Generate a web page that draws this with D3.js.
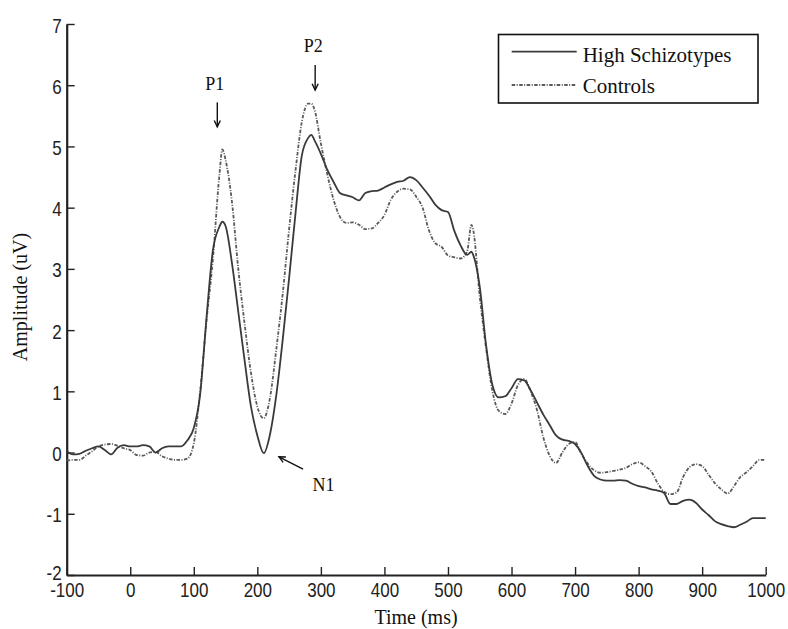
<!DOCTYPE html>
<html><head><meta charset="utf-8">
<script src="https://cdn.jsdelivr.net/npm/d3@7"></script>
<style>body{margin:0;background:#fff}</style>
</head><body><svg id="c" width="788" height="629"></svg>
<script>
const times = [-100,-90,-80,-70,-60,-50,-40,-30,-20,-10,0,10,20,30,40,50,60,70,80,90,100,110,120,130,140,145,150,160,170,180,190,200,210,220,230,240,250,260,270,280,285,290,300,310,320,330,340,350,360,370,380,390,400,410,420,430,440,450,460,470,480,490,500,510,520,530,537,540,550,560,570,580,590,600,610,620,630,640,650,660,670,680,690,700,710,720,730,740,750,760,770,780,790,800,810,820,830,840,850,860,870,880,890,900,910,920,930,940,950,960,970,980,990,1000];
const highSchizotypes = [0.02,-0.03,-0.02,0.03,0.07,0.1,0.04,-0.03,0.08,0.12,0.1,0.1,0.12,0.1,0.0,0.07,0.1,0.1,0.1,0.2,0.4,0.95,2.2,3.3,3.68,3.77,3.7,3.1,2.3,1.5,0.75,0.28,-0.01,0.3,0.95,1.85,2.85,3.9,4.85,5.14,5.19,5.1,4.88,4.62,4.42,4.24,4.2,4.17,4.12,4.24,4.27,4.28,4.33,4.38,4.42,4.44,4.5,4.45,4.33,4.2,4.05,3.96,3.93,3.62,3.38,3.23,3.28,3.22,2.71,1.75,1.1,0.9,0.92,1.05,1.2,1.18,1.02,0.82,0.62,0.45,0.28,0.21,0.19,0.14,-0.01,-0.22,-0.38,-0.44,-0.46,-0.46,-0.45,-0.46,-0.51,-0.55,-0.57,-0.6,-0.62,-0.66,-0.84,-0.84,-0.79,-0.77,-0.82,-0.93,-1.02,-1.12,-1.17,-1.2,-1.22,-1.18,-1.13,-1.07,-1.07,-1.07];
const controls = [-0.13,-0.12,-0.12,-0.05,0.02,0.1,0.13,0.14,0.11,0.07,0.04,-0.04,-0.05,0.0,0.01,-0.06,-0.1,-0.12,-0.12,-0.1,0.15,1.0,2.15,3.15,4.5,4.95,4.78,4.1,3.0,2.1,1.3,0.75,0.56,0.9,1.7,2.6,3.65,4.6,5.4,5.7,5.7,5.6,5.05,4.55,4.13,3.85,3.75,3.76,3.72,3.65,3.66,3.75,3.88,4.13,4.26,4.31,4.3,4.18,4.0,3.63,3.42,3.36,3.22,3.19,3.17,3.28,3.72,3.62,2.55,1.7,1.0,0.68,0.63,0.8,1.1,1.2,1.0,0.7,0.25,-0.05,-0.17,0.0,0.14,0.17,-0.02,-0.18,-0.29,-0.33,-0.32,-0.3,-0.28,-0.25,-0.19,-0.16,-0.22,-0.31,-0.5,-0.64,-0.68,-0.65,-0.4,-0.24,-0.19,-0.22,-0.36,-0.5,-0.6,-0.67,-0.55,-0.4,-0.32,-0.22,-0.12,-0.12];
const xTicks = [-100,0,100,200,300,400,500,600,700,800,900,1000];
const yTicks = [-2,-1,0,1,2,3,4,5,6,7];
const seriesNames = ["High Schizotypes","Controls"];
const peakLabels = ["P1","P2","N1"];

const svg = d3.select("#c");
const x = d3.scaleLinear().domain([-100,1000]).range([66.7,765.7]);
const y = d3.scaleLinear().domain([-2,7]).range([575,24]);

const sansFont = "'Liberation Sans', Arial, sans-serif";
const serifFont = "'Liberation Serif', 'Times New Roman', serif";
const fmt = d => String(d);

// axes
const xAxis = svg.append("g").attr("transform","translate(0,575)")
  .call(d3.axisBottom(x).tickValues(xTicks).tickSizeInner(-8).tickSizeOuter(0).tickFormat(fmt));
const yAxis = svg.append("g").attr("transform","translate(66.7,0)")
  .call(d3.axisLeft(y).tickValues(yTicks).tickSizeInner(-8).tickSizeOuter(0).tickFormat(fmt));
[xAxis,yAxis].forEach(g=>{
  g.select(".domain").attr("stroke","#222").attr("stroke-width",2.2);
  g.selectAll(".tick line").attr("stroke","#222").attr("stroke-width",1.4);
  g.selectAll(".tick text").attr("fill","#222").style("font-family",sansFont).style("font-size","17px");
});
xAxis.selectAll(".tick text").attr("y",0).attr("dy",null).attr("transform","translate(0,22) scale(1,1.2)");
yAxis.selectAll(".tick text").attr("x",0).attr("dy",null).attr("text-anchor","end")
  .attr("transform",d=>`translate(-5,${d===-2?4.5:8}) scale(1,1.2)`);

// lines
const line = d3.line().x((d,i)=>x(times[i])).y(d=>y(d)).curve(d3.curveMonotoneX);
svg.append("path").datum(controls).attr("d",line).attr("fill","none")
  .attr("stroke","#5a5a5a").attr("stroke-width",1.8).attr("stroke-dasharray","3.5,1.5,1,1.5");
svg.append("path").datum(highSchizotypes).attr("d",line).attr("fill","none")
  .attr("stroke","#3a3a3a").attr("stroke-width",1.8);

// axis titles
svg.append("text").attr("x",416).attr("y",624).attr("text-anchor","middle")
  .style("font-family",serifFont).style("font-size","20px").attr("fill","#111").text("Time (ms)");
svg.append("text").attr("transform","translate(27,297) rotate(-90)").attr("text-anchor","middle")
  .style("font-family",serifFont).style("font-size","20px").attr("fill","#111").text("Amplitude (uV)");

// legend
const lg = svg.append("g");
lg.append("rect").attr("x",498.5).attr("y",34.5).attr("width",259.5).attr("height",68.5)
  .attr("fill","#fff").attr("stroke","#111").attr("stroke-width",1.6);
lg.append("line").attr("x1",511.7).attr("x2",576.7).attr("y1",51.7).attr("y2",51.7)
  .attr("stroke","#3a3a3a").attr("stroke-width",1.8);
lg.append("line").attr("x1",511.7).attr("x2",576.7).attr("y1",85).attr("y2",85)
  .attr("stroke","#5a5a5a").attr("stroke-width",1.8).attr("stroke-dasharray","3.5,1.5,1,1.5");
lg.append("text").attr("x",582.7).attr("y",61.5).style("font-family",serifFont).style("font-size","21px")
  .attr("fill","#111").text(seriesNames[0]);
lg.append("text").attr("x",582.7).attr("y",93).style("font-family",serifFont).style("font-size","21px")
  .attr("fill","#111").text(seriesNames[1]);

// annotations (positions in data units)
const ann = svg.append("g").attr("fill","#111").style("font-family",serifFont).style("font-size","18px");
function arrow(t0,v0,t1,v1){
  const x0=x(t0),y0=y(v0),x1=x(t1),y1=y(v1);
  const ang=Math.atan2(y1-y0,x1-x0), L=7, a=0.45;
  svg.append("line").attr("x1",x0).attr("y1",y0).attr("x2",x1).attr("y2",y1).attr("stroke","#111").attr("stroke-width",1.4);
  svg.append("path").attr("d",`M${x1-L*Math.cos(ang-a)},${y1-L*Math.sin(ang-a)}L${x1},${y1}L${x1-L*Math.cos(ang+a)},${y1-L*Math.sin(ang+a)}`)
    .attr("fill","none").attr("stroke","#111").attr("stroke-width",1.4);
}
ann.append("text").attr("x",x(133)).attr("y",y(5.93)).attr("text-anchor","middle").text(peakLabels[0]);
arrow(137,5.72,137,5.32);
ann.append("text").attr("x",x(288)).attr("y",y(6.55)).attr("text-anchor","middle").text(peakLabels[1]);
arrow(291,6.33,291,5.92);
ann.append("text").attr("x",x(304)).attr("y",y(-0.62)).attr("text-anchor","middle").text(peakLabels[2]);
arrow(272,-0.27,234,-0.07);
</script>
</body></html>
